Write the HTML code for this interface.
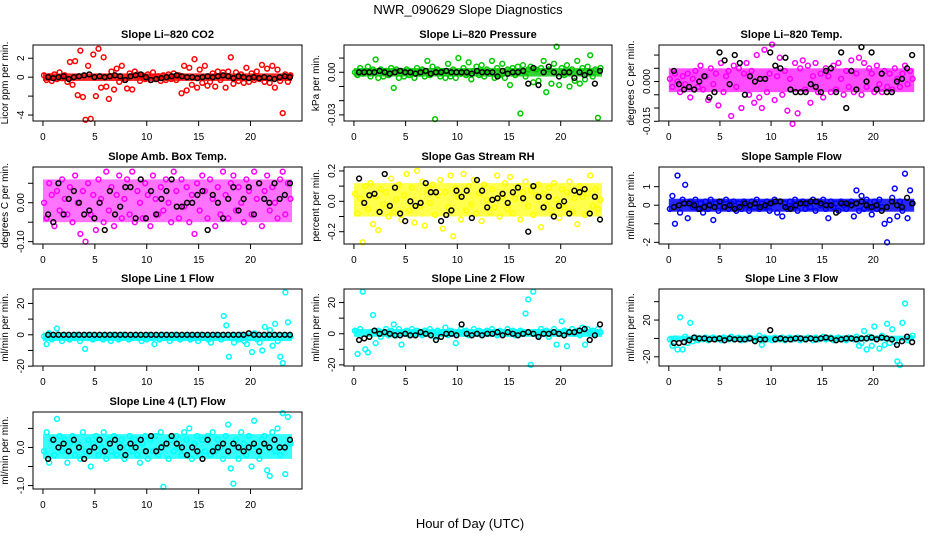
<!DOCTYPE html>
<html><head><meta charset="utf-8"><style>
html,body{margin:0;padding:0;background:#fff;}
svg{display:block;font-family:"Liberation Sans",sans-serif;}
</style></head><body>
<svg id="chart" width="936" height="540" viewBox="0 0 936 540">
<text x="468" y="14" text-anchor="middle" font-size="13">NWR_090629  Slope Diagnostics</text>
<text x="470" y="528" text-anchor="middle" font-size="13">Hour of Day (UTC)</text>
</svg>
<script>
const co2 = [0.2,-0.3,0.1,-0.4,0.3,-0.2,0.5,-0.1,0.2,-0.5,1.6,-0.8,1.7,-1.9,2.8,-2.1,-4.5,1.2,-4.4,2.4,-2.0,3.0,-1.1,2.1,-1.0,-2.3,0.6,-1.3,0.9,-0.5,1.2,-0.3,-1.2,0.4,-1.3,0.6,0.3,-0.4,0.2,-0.2,0.3,-0.3,0.5,-0.2,0.1,-0.4,0.2,-0.3,0.3,-0.2,0.4,-0.3,0.2,-1.7,1.2,-1.4,1.0,-0.8,1.9,-1.1,0.8,-0.6,1.2,-0.9,-0.5,0.4,-1.0,0.6,-0.3,0.5,-1.1,0.6,2.1,-0.7,0.5,-0.4,0.3,-0.6,1.0,-0.5,0.4,-0.3,0.6,-0.2,1.3,-0.5,0.9,-0.6,1.2,-1.1,0.8,-0.4,-3.8,0.3,-0.5,0.2];
const co2Black = [0,-0.1,0,0.1,-0.2,0,0.1,0.2,0.3,0,0.1,0,0.1,0.2,0.1,-0.3,0.1,0.2,0.3,0,-0.3,-0.2,-0.1,0,0.1,0.2,0.1,0,0,-0.1,0,0.1,0,0.1,0.2,0.1,-0.1,0.1,0,-0.1,0,-0.1,0,-0.1,-0.2,0,0.1,0];
const pres = [0.000,-0.002,0.003,-0.001,0.001,0.004,-0.003,0.002,0.009,-0.004,0.002,-0.003,0.001,-0.002,0.003,-0.011,0.002,-0.004,0.001,-0.003,0.002,-0.002,0.000,-0.004,0.003,-0.001,0.002,-0.003,0.008,-0.002,0.004,-0.033,0.002,-0.003,0.001,-0.004,0.006,-0.003,0.002,-0.004,0.010,-0.001,0.003,-0.002,0.007,-0.005,0.001,0.004,-0.002,0.005,-0.003,0.002,-0.001,0.008,-0.004,0.003,-0.002,0.006,-0.004,0.002,-0.009,0.003,-0.002,0.004,-0.029,0.005,-0.003,0.002,0.004,-0.007,0.002,-0.006,0.003,0.008,-0.014,0.002,-0.008,0.006,0.018,-0.009,0.003,-0.002,0.005,-0.010,0.002,-0.006,0.008,-0.008,0.003,-0.005,0.004,0.012,-0.003,0.002,-0.032,0.003];
const presBlack = [0,0,0,0,0.001,0,-0.001,0,0.001,0,0,-0.001,0,0.001,-0.001,0,0,0.001,0,0,0,0,-0.001,0.001,0,0,0,-0.003,0.001,-0.001,0,0,0.001,-0.008,0.003,-0.009,0,0.004,0,-0.003,0,0,-0.004,0,-0.002,0,-0.008,0.001];
const liTemp = [0.001,-0.002,0.003,0.000,-0.004,0.002,-0.001,0.003,-0.006,0.001,0.004,-0.002,0.006,-0.003,0.002,-0.007,0.005,-0.001,0.003,-0.009,0.007,-0.004,0.002,0.004,-0.013,0.006,-0.002,0.005,-0.010,0.003,0.007,-0.005,0.004,-0.008,0.010,-0.006,-0.010,0.012,-0.004,0.003,0.014,-0.007,0.002,0.009,-0.005,0.004,-0.011,0.001,-0.016,0.007,-0.012,0.005,0.008,-0.003,0.006,-0.008,0.002,0.007,-0.004,0.003,-0.006,0.005,0.002,-0.004,0.006,-0.003,0.007,0.001,-0.005,0.004,-0.002,0.008,-0.004,0.003,0.009,-0.005,0.007,-0.002,0.005,0.003,-0.004,0.006,-0.001,-0.004,0.004,-0.002,0.003,-0.003,0.005,0.001,-0.002,0.003,0.006,-0.001,0.004,0.001];
const liTempBlack = [0.004,-0.001,-0.003,-0.002,-0.003,0,0.002,-0.006,-0.004,0.011,0.008,-0.001,0.010,0.007,-0.005,0.002,0.000,0.001,0.001,0.011,0.006,0.005,0.009,-0.003,-0.004,-0.004,-0.004,-0.001,-0.002,-0.004,0.004,0.005,-0.004,0.011,-0.010,0.004,-0.003,0.013,0.000,0.011,-0.003,0.003,-0.004,-0.004,0.000,0.001,0.005,0.010];
const ambTemp = [0.00,-0.04,0.05,0.02,-0.06,0.03,-0.02,0.06,0.01,-0.03,0.04,-0.05,0.07,0.00,-0.08,0.03,-0.10,0.05,-0.03,0.02,-0.07,0.06,0.01,-0.05,0.08,-0.02,0.04,-0.06,0.02,0.07,-0.04,0.01,0.06,-0.03,0.08,-0.05,0.03,0.00,-0.04,0.05,0.02,-0.06,0.07,0.01,-0.03,0.04,-0.02,0.06,0.00,-0.05,0.08,0.03,-0.04,0.06,-0.01,0.04,-0.05,0.02,-0.08,0.05,-0.02,0.07,0.03,-0.04,0.06,0.01,-0.06,0.04,-0.03,0.08,0.02,-0.04,0.05,0.07,-0.02,0.04,0.00,-0.05,0.06,0.03,-0.03,0.08,0.01,0.05,-0.06,0.03,0.07,-0.02,0.04,0.00,-0.04,0.06,0.08,-0.03,0.05,0.01];
const ambTempBlack = [-0.03,-0.05,0.05,-0.03,0.01,0.03,0.00,-0.03,-0.02,-0.04,0.00,-0.07,0.03,-0.03,-0.01,0.04,0.04,-0.04,0.06,-0.04,0.03,-0.03,0.01,0.03,0.06,-0.01,-0.01,0.00,0.00,0.02,0.03,-0.07,0.02,0.00,-0.04,0.01,0.04,-0.02,0.01,0.04,-0.03,0.05,0.01,0.00,0.05,0.01,0.02,0.05];
const gasRH = [0.05,-0.08,0.02,-0.27,0.10,-0.05,0.12,-0.15,0.03,-0.19,0.08,-0.02,0.06,-0.10,0.15,-0.07,0.01,0.11,-0.12,0.04,0.18,-0.06,0.09,-0.14,0.20,-0.03,0.13,-0.16,0.07,-0.01,0.11,-0.09,0.04,0.14,-0.18,0.06,-0.04,0.17,-0.23,0.09,0.03,-0.12,0.18,-0.06,0.10,-0.02,0.14,-0.08,0.05,-0.13,0.11,0.01,-0.07,0.08,-0.04,0.17,-0.10,0.03,0.12,-0.05,0.16,-0.08,0.02,0.10,-0.12,0.06,0.13,-0.03,0.07,-0.09,0.04,0.11,-0.17,0.05,-0.02,0.09,-0.06,0.12,0.01,-0.11,0.08,-0.04,0.06,0.13,-0.07,0.02,-0.15,0.10,0.03,-0.09,0.05,0.17,-0.03,0.08,-0.05,0.01];
const gasRHBlack = [0.15,-0.01,0.04,0.05,-0.07,0.18,-0.03,0.09,-0.08,-0.13,0.00,-0.03,-0.01,0.12,0.06,0.06,-0.13,-0.09,-0.06,0.07,0.03,0.07,-0.11,0.14,0.07,-0.04,0.01,0.02,0.05,-0.01,0.06,0.09,0.02,-0.20,0.10,0.03,-0.04,0.03,-0.10,-0.03,0.00,-0.08,0.07,0.06,0.08,-0.08,0.03,-0.12];
const sampleFlow = [-0.2,0.5,-1.0,1.6,-0.4,0.3,1.1,-0.7,0.2,-0.1,0.3,-0.2,0.1,-0.4,0.2,-0.2,0.3,-0.8,0.1,-0.3,0.2,-0.1,0.3,-0.2,0.1,0.2,-0.3,0.1,-0.2,0.2,0.0,-0.3,0.2,-0.1,0.3,-0.2,0.1,-0.1,0.2,-0.3,0.1,0.3,-0.4,0.2,-0.6,0.1,-0.2,0.2,-0.1,0.3,-0.3,0.1,0.2,-0.2,0.1,-0.1,0.3,-0.3,0.2,0.0,0.3,-0.2,-0.7,0.2,-0.1,0.1,-0.3,0.2,0.0,-0.2,0.1,0.2,-0.6,0.8,-0.3,0.5,-0.2,0.3,-0.1,-0.5,0.2,-0.2,0.3,-0.1,-1.0,-2.0,-0.8,0.4,0.9,-0.6,0.2,-0.3,1.7,-0.7,0.8,0.1];
const sampleFlowBlack = [-0.1,0.0,0.1,0.1,0.0,-0.2,-0.1,0.0,-0.1,0.2,-0.1,0.0,-0.2,-0.1,0.1,0.0,0.1,-0.1,0.0,0.1,0.2,0.2,-0.1,-0.2,0.0,0.1,0.1,0.2,0.2,0.1,0.0,0.0,-0.4,0.1,0.1,0.0,0.1,0.2,0.0,-0.1,0.0,-0.3,-0.1,0.2,0.0,-0.1,0.4,0.1];
const line1 = [-1,-6,1,-3,-2,4,-1,-4,0,-2,-3,-1,-2,0,-4,-1,-9,-2,0,-3,-1,-2,0,-3,-1,-2,-4,0,-1,-3,-2,0,-1,-3,-2,-1,0,-2,-4,-1,-3,0,-2,-6,-1,-3,0,-2,-1,-4,-2,0,-1,-3,-2,-1,0,-3,-2,-1,-4,0,-2,-1,-3,-5,-2,0,-1,-3,12,6,-14,-2,-5,-1,-3,0,-4,-6,-2,-11,1,-3,-5,-10,5,-2,3,-7,7,-4,-14,-18,27,8,-1];
const line1Black = [0,0,0,0,0,0,0,0,0,0,0,0,0,0,0,0,0,0,0,0,0,0,0,0,0,0,0,0,0,0,0,0,0,0,0,0,0,0,0,1,0,0,0,0,0,0,0,0];
const line2 = [2,-13,3,27,-10,-12,1,12,-6,2,-2,1,3,-1,2,6,-1,3,-7,1,2,-1,3,0,2,1,-1,2,0,3,1,-2,2,0,1,4,-1,2,0,-6,1,3,0,2,-1,1,3,0,2,-1,1,2,0,3,1,-1,2,0,1,3,0,2,-1,1,2,0,13,22,-20,27,1,-1,3,0,2,-2,1,3,-7,0,8,2,-8,1,3,0,2,-1,4,-7,3,1,2,0,3,1];
const line2Black = [-4,-3,-2,2,0,1,0,-1,-1,0,-1,-1,1,0,-1,-4,-2,0,0,-1,6,0,-1,0,-1,0,0,1,-1,1,0,-1,0,1,0,-2,0,0,1,0,-1,1,1,2,3,-4,-1,6];
const line3 = [-1,-8,0,-12,23,-12,2,-5,17,-3,1,-2,0,-1,1,-2,0,1,-1,0,-2,1,0,-1,2,-1,0,1,-2,0,-1,1,0,-2,0,3,-7,1,-1,0,-2,1,0,-1,1,-2,0,1,-1,0,1,-2,0,-1,1,0,-2,1,-1,0,2,-1,0,1,-2,0,1,-1,0,-2,1,0,-1,2,-8,-5,8,-12,2,-8,13,0,-11,3,-7,16,-5,10,-4,-25,-29,17,38,-2,1,3];
const line3Black = [-5,-5,-4,-2,1,0,0,-1,-1,0,-2,0,-1,-1,-1,0,-3,-1,-1,9,-1,0,-1,-1,0,0,-1,0,-1,0,1,0,-2,-1,0,0,-1,0,0,1,-1,1,0,-1,-7,-3,2,-4];
const line4 = [-0.1,0.4,-0.4,0.2,-0.2,0.75,0.3,-0.1,0.2,-0.4,0.1,0.3,-0.2,0.1,-0.3,0.4,-0.1,0.2,-0.5,0.1,0.3,-0.2,0.0,0.4,-0.3,0.2,-0.1,0.3,-0.2,0.1,0.2,-0.3,0.0,0.3,-0.1,0.2,-0.2,-0.4,0.1,0.3,-0.3,0.2,-0.1,0.3,-0.2,0.4,-1.03,0.1,-0.3,0.2,-0.1,0.3,0.0,-0.2,0.4,0.2,0.5,-0.3,0.1,0.3,-0.2,0.2,-0.1,0.3,-0.2,0.4,-0.1,0.2,0.0,-0.3,0.3,0.6,-0.55,-0.95,0.2,-0.3,0.4,0.1,-0.2,0.3,-0.5,0.7,0.0,-0.3,0.2,0.3,-0.6,-0.75,0.4,-0.1,0.5,-0.2,0.9,-0.7,0.8,0.1];
const line4Black = [-0.3,0.2,0.0,0.1,-0.1,0.2,0.0,-0.3,-0.1,0.0,0.2,-0.1,0.1,0.2,0.0,-0.2,0.1,0.0,0.2,-0.1,0.3,-0.1,0.0,0.1,0.3,0.1,0.0,-0.2,0.0,-0.1,-0.3,0.2,-0.1,0.0,0.1,-0.1,0.1,0.0,-0.1,0.0,0.1,-0.1,0.1,0.0,0.2,0.0,0.0,0.2];
// typical spread of the dense 1-minute band [low, high]
const co2Band = [-0.4,0.4];
const presBand = [-0.003,0.003];
const liTempBand = [-0.004,0.005];
const ambTempBand = [-0.05,0.06];
const gasRHBand = [-0.1,0.12];
const sampleFlowBand = [-0.35,0.35];
const line1Band = [-4,1.5];
const line2Band = [-2,3];
const line3Band = [-3,3];
const line4Band = [-0.3,0.35];
const xTicks = [0,5,10,15,20];

const NS = 'http://www.w3.org/2000/svg';
const svg = document.getElementById('chart');
const COLS = [[33,302],[344,612],[659,924]];
const ROWS = [[45,121],[167,244],[289,366],[412,489]];
const XMIN = -0.96, XMAX = 24.96;

const panels = [
 {name:'li820-co2',title:'Slope Li\u2013820 CO2',ylab:'Licor ppm per min.',c:0,r:0,col:'#ff0000',op:0.85,d:co2,b:co2Black,band:co2Band,ylim:[-4.63,3.4],ticks:[-4,-2,0,2],labels:['-4','','0','2']},
 {name:'li820-pressure',title:'Slope Li\u2013820 Pressure',ylab:'kPa per min.',c:1,r:0,col:'#00c800',op:0.8,d:pres,b:presBlack,band:presBand,ylim:[-0.0343,0.0192],ticks:[-0.03,-0.02,-0.01,0,0.01],labels:['-0.03','','','0.00','']},
 {name:'li820-temp',title:'Slope Li\u2013820 Temp.',ylab:'degrees C per min.',c:2,r:0,col:'#ff00ff',op:0.7,d:liTemp,b:liTempBlack,band:liTempBand,ylim:[-0.0149,0.0138],ticks:[-0.015,-0.01,-0.005,0,0.005,0.01],labels:['-0.015','','','0.000','','']},
 {name:'amb-box-temp',title:'Slope Amb. Box Temp.',ylab:'degrees C per min.',c:0,r:1,col:'#ff00ff',op:0.55,d:ambTemp,b:ambTempBlack,band:ambTempBand,ylim:[-0.106,0.0918],ticks:[-0.1,-0.05,0,0.05],labels:['-0.10','','0.00','']},
 {name:'gas-stream-rh',title:'Slope Gas Stream RH',ylab:'percent per min.',c:1,r:1,col:'#ffff00',op:0.7,d:gasRH,b:gasRHBlack,band:gasRHBand,ylim:[-0.281,0.226],ticks:[-0.2,-0.1,0,0.1,0.2],labels:['-0.2','','0.0','','0.2']},
 {name:'sample-flow',title:'Slope Sample Flow',ylab:'ml/min per min.',c:2,r:1,col:'#0000ff',op:0.85,d:sampleFlow,b:sampleFlowBlack,band:sampleFlowBand,ylim:[-2.09,2.06],ticks:[-2,-1,0,1],labels:['-2','','0','1']},
 {name:'line1-flow',title:'Slope Line 1 Flow',ylab:'ml/min per min.',c:0,r:2,col:'#00ffff',op:0.85,d:line1,b:line1Black,band:line1Band,ylim:[-19.9,29.2],ticks:[-20,-10,0,10,20],labels:['-20','','0','','20']},
 {name:'line2-flow',title:'Slope Line 2 Flow',ylab:'ml/min per min.',c:1,r:2,col:'#00ffff',op:0.85,d:line2,b:line2Black,band:line2Band,ylim:[-20.7,28.7],ticks:[-20,-10,0,10,20],labels:['-20','','0','','20']},
 {name:'line3-flow',title:'Slope Line 3 Flow',ylab:'ml/min per min.',c:2,r:2,col:'#00ffff',op:0.85,d:line3,b:line3Black,band:line3Band,ylim:[-30,53.8],ticks:[-20,0,20,40],labels:['-20','','20','']},
 {name:'line4-flow',title:'Slope Line 4 (LT) Flow',ylab:'ml/min per min.',c:0,r:3,col:'#00ffff',op:0.8,d:line4,b:line4Black,band:line4Band,ylim:[-1.09,0.93],ticks:[-1,-0.5,0,0.5],labels:['-1.0','','0.0','']}
];

function mk(tag, attrs, parent){
  const e = document.createElementNS(NS, tag);
  for (const k in attrs) e.setAttribute(k, attrs[k]);
  (parent||svg).appendChild(e);
  return e;
}

panels.forEach(p => {
  const [L,R] = COLS[p.c], [T,B] = ROWS[p.r];
  const xs = v => L + (v - XMIN)/(XMAX - XMIN)*(R - L);
  const ys = v => B - (v - p.ylim[0])/(p.ylim[1] - p.ylim[0])*(B - T);
  const g = mk('g', {});
  
  

  const t = mk('text', {x:(L+R)/2, y:T-7, 'text-anchor':'middle', 'font-size':'11', 'font-weight':'bold'}, g);
  t.textContent = p.title;
  
  

  const yl = mk('text', {transform:`translate(${L-25},${(T+B)/2}) rotate(-90)`, 'text-anchor':'middle', 'font-size':'10'}, g);
  yl.textContent = p.ylab;
  
  

  // dense band of 1-min samples
  const band = mk('rect', {x:xs(0), y:ys(p.band[1]), width:xs(24)-xs(0), height:ys(p.band[0])-ys(p.band[1]), fill:p.col, opacity:p.op}, g);
  
  

  const pg = mk('g', {fill:'none','stroke-width':'1.5'}, g);
  
  
  p.d.forEach((v,i) => {
    const hr = 24*i/p.d.length + 0.1;
    const c = mk('circle', {cx:xs(hr), cy:ys(v), r:2.4, stroke:p.col}, pg);
    
    
  });
  p.b.forEach((v,i) => {
    const hr = 0.5 + i*23.3/(p.b.length-1);
    const c = mk('circle', {cx:xs(hr), cy:ys(v), r:2.4, stroke:'#000'}, pg);
    
    
  });

  const box = mk('rect', {x:L, y:T, width:R-L, height:B-T, fill:'none', stroke:'#000', 'stroke-width':'1'}, g);
  
  

  const ya = mk('g', {}, g);
  
  
  mk('line', {x1:L, x2:L, y1:ys(p.ticks[0]), y2:ys(p.ticks[p.ticks.length-1]), stroke:'#000'}, ya);
  p.ticks.forEach((v,i) => {
    const y = ys(v);
    mk('line', {x1:L-5, x2:L, y1:y, y2:y, stroke:'#000'}, ya);
    if (p.labels[i]) {
      const tl = mk('text', {transform:`translate(${L-9},${y}) rotate(-90)`, 'text-anchor':'middle', 'font-size':'10'}, ya);
      tl.textContent = p.labels[i];
      
      
    }
  });

  const xa = mk('g', {}, g);
  
  
  mk('line', {x1:xs(xTicks[0]), x2:xs(xTicks[xTicks.length-1]), y1:B, y2:B, stroke:'#000'}, xa);
  xTicks.forEach(v => {
    const x = xs(v);
    mk('line', {x1:x, x2:x, y1:B, y2:B+5, stroke:'#000'}, xa);
    const tl = mk('text', {x:x, y:B+19, 'text-anchor':'middle', 'font-size':'10'}, xa);
    tl.textContent = String(v);
    
    
  });
});
</script>
</body></html>
